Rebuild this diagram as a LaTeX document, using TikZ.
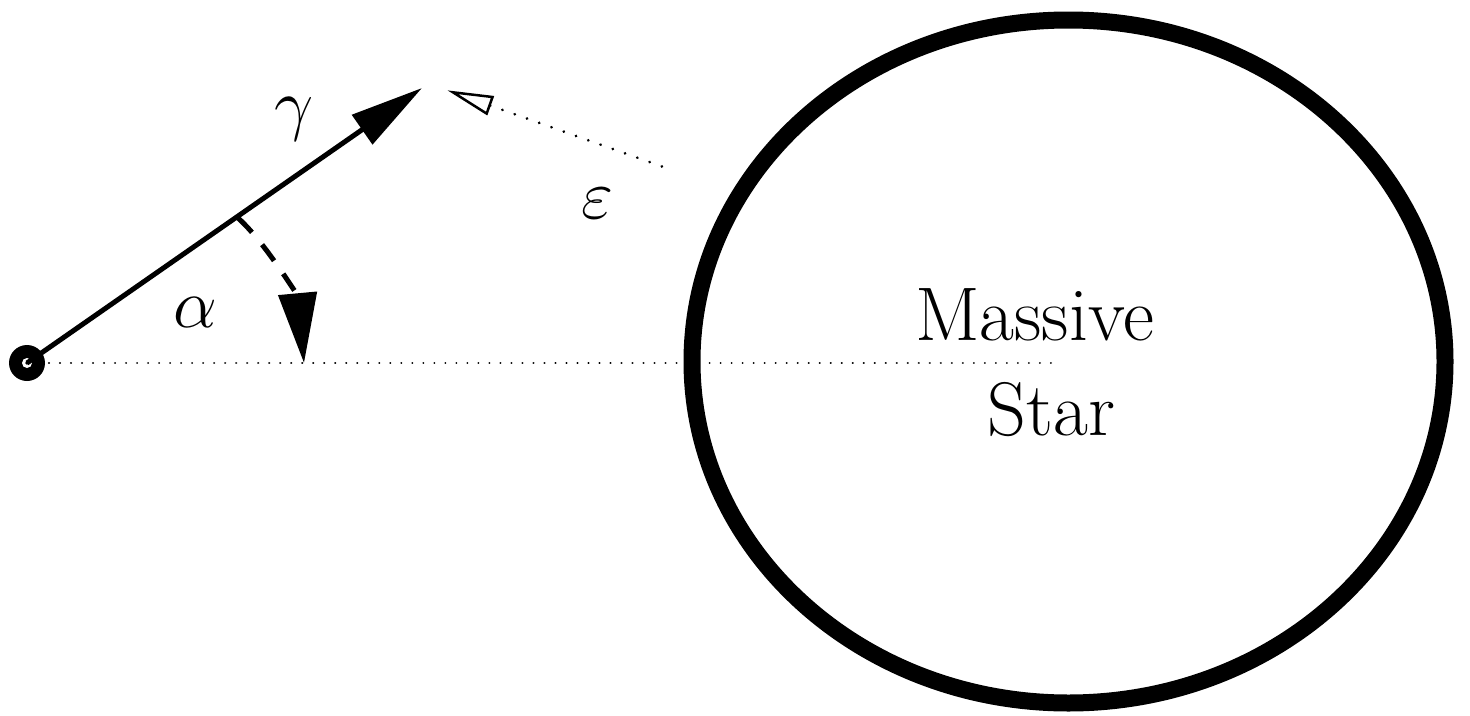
\documentclass[tikz,border=0pt]{standalone}
\usepackage{graphicx}
\usepackage{fontspec}
\usetikzlibrary{arrows.meta}
\newcommand{\bigsym}[1]{\scalebox{2.8}{\fontsize{24.88}{30}\selectfont$#1$}}
\begin{document}
\begin{tikzpicture}[x=1pt,y=-1pt,
  lbl/.style={inner sep=0pt,font=\rmfamily\fontsize{76}{90}\selectfont},
  sym/.style={inner sep=0pt},
  dotline/.style={line width=2.2pt,line cap=round,dash pattern=on 0.01pt off 11pt},
  ray/.style={line width=5pt,-{Triangle[length=73pt,width=35pt]}},
  swing/.style={line width=5pt,dash pattern=on 20pt off 16pt,-{Triangle[length=70pt,width=38pt]}},
  esc/.style={line width=3pt,line cap=round,dash pattern=on 0.01pt off 13pt,
    {Triangle[open,length=46pt,width=20pt,line width=2.5pt,sep=10pt]}-}]
\useasboundingbox (0,0) rectangle (1470,715);
% coordinates
\coordinate (src) at (27,363);
\coordinate (gtip) at (422,88);
\coordinate (hend) at (1053,363);
\coordinate (atail) at (238,218);
\coordinate (ahead) at (304,363);
\coordinate (etip) at (438,87);
\coordinate (etail) at (672,170);
% massive star
\draw[line width=17pt] (1068.5,361.5) ellipse [x radius=376.5pt, y radius=341.5pt];
% horizontal dotted line
\draw[dotline] ([xshift=22pt]src) -- (hend);
% observer
\fill (src) circle [radius=18pt];
\fill[white] (src) circle [radius=5pt];
\fill (src) circle [radius=1.8pt];
% photon ray
\draw[ray] (src) -- (gtip);
% angle arrow
\draw[swing] (atail) .. controls (266,243) and (298,298) .. (ahead);
% escaping direction
\draw[esc] (etip) -- (etail);
% labels
\node[sym] (gam) at (294,119) {\bigsym{\gamma}};
\node[sym] (alp) at (195,312) {\bigsym{\alpha}};
\node[sym] (eps) at (597,203) {\bigsym{\varepsilon}};
\node[lbl,anchor=base] (mas) at (1034.5,340) {Massive};
\node[lbl,anchor=base] (sta) at (1051.5,435) {Star};
\end{tikzpicture}
\end{document}
